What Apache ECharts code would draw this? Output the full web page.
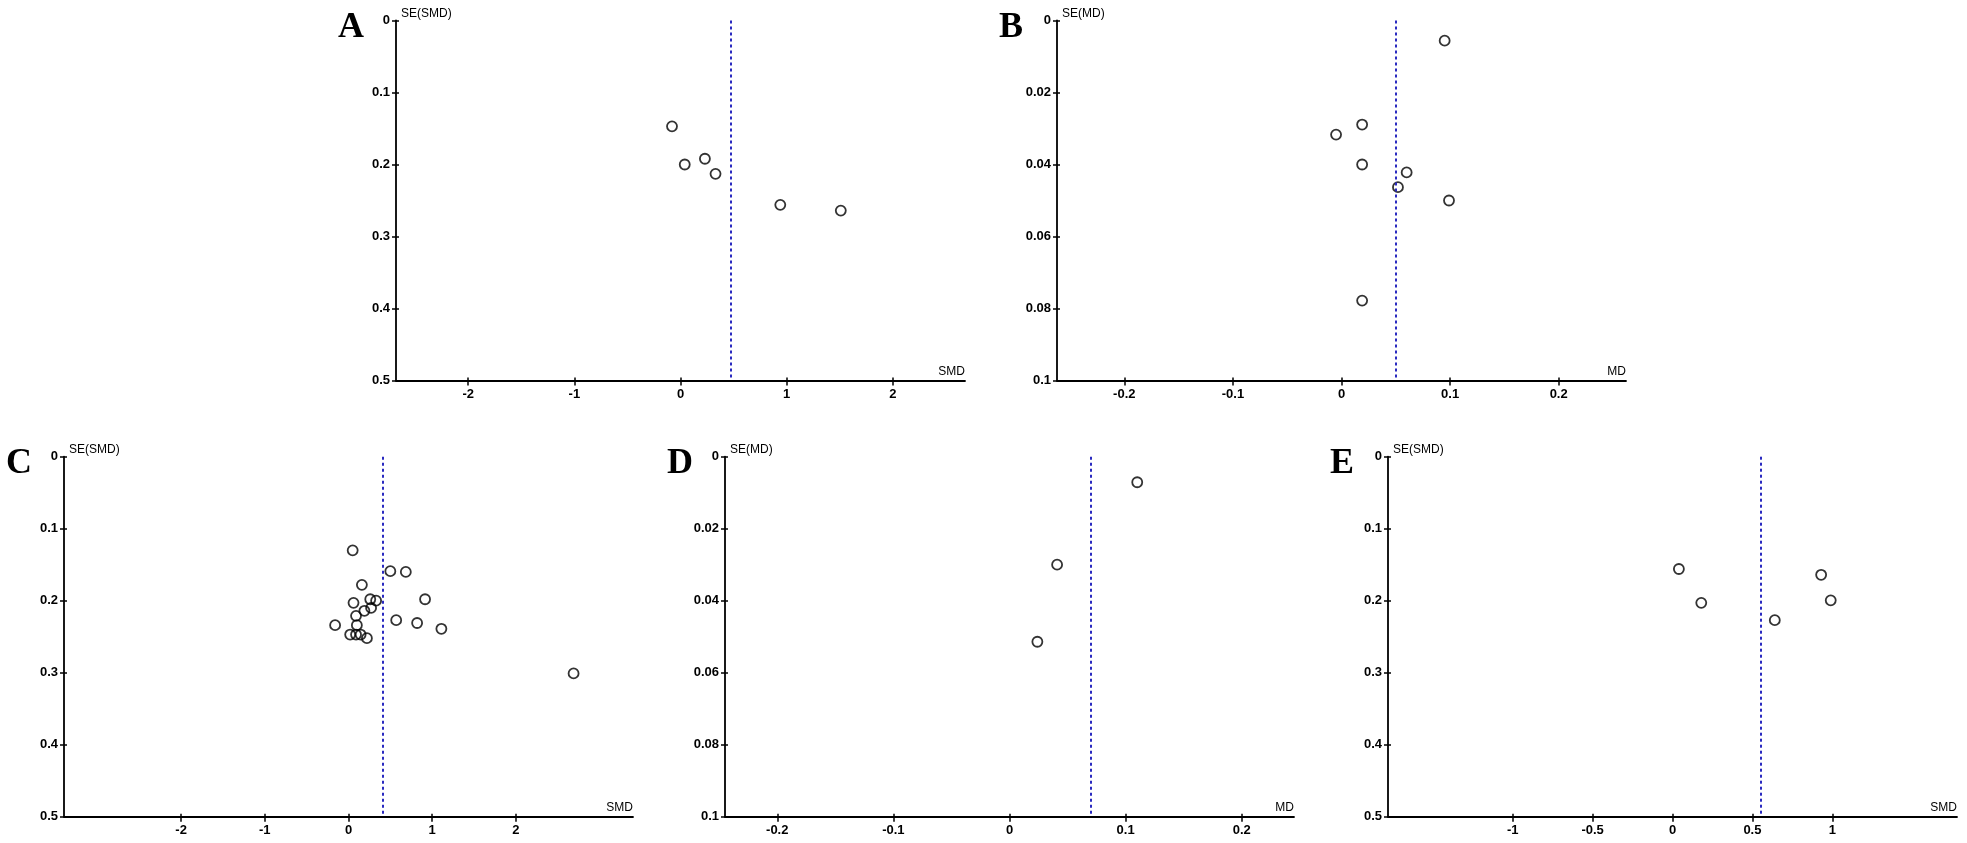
<!DOCTYPE html>
<html>
<head>
<meta charset="utf-8">
<script src="https://cdn.jsdelivr.net/npm/echarts@6/dist/echarts.min.js"></script>
<style>
  html, body { margin: 0; padding: 0; background: #fff; }
  #chart { width: 1967px; height: 843px; }
</style>
</head>
<body>
<div id="chart"></div>
<script>
// ---------------- DATA ----------------
// Panel A (SMD)
const A_effect = [-0.08, 0.04, 0.23, 0.33, 0.94, 1.51];
const A_se     = [0.147, 0.200, 0.192, 0.213, 0.256, 0.264];
const A_pooled = 0.47;
// Panel B (MD)
const B_effect = [0.095, 0.019, -0.005, 0.019, 0.060, 0.052, 0.099, 0.019];
const B_se     = [0.0056, 0.0289, 0.0317, 0.0400, 0.0422, 0.0463, 0.0500, 0.0778];
const B_pooled = 0.0485;
// Panel C (SMD)
const C_effect = [0.05, 0.50, 0.685, 0.16, 0.06, 0.26, 0.33, 0.915, 0.27, 0.19, 0.09, 0.57, 0.82, -0.16, 0.10, 1.11, 0.02, 0.09, 0.145, 0.22, 2.69];
const C_se     = [0.130, 0.159, 0.160, 0.178, 0.203, 0.198, 0.200, 0.198, 0.210, 0.214, 0.221, 0.227, 0.231, 0.234, 0.234, 0.239, 0.247, 0.247, 0.247, 0.252, 0.301];
const C_pooled = 0.415;
// Panel D (MD)
const D_effect = [0.110, 0.041, 0.024];
const D_se     = [0.0071, 0.0300, 0.0514];
const D_pooled = 0.0707;
// Panel E (SMD)
const E_effect = [0.04, 0.18, 0.64, 0.93, 0.99];
const E_se     = [0.156, 0.203, 0.227, 0.164, 0.1995];
const E_pooled = 0.552;

// axis ranges and tick labels
const A_xTicks = [-2, -1, 0, 1, 2];
const B_xTicks = [-0.2, -0.1, 0, 0.1, 0.2];
const C_xTicks = [-2, -1, 0, 1, 2];
const D_xTicks = [-0.2, -0.1, 0, 0.1, 0.2];
const E_xTicks = [-1, -0.5, 0, 0.5, 1];
const xRanges  = { A: 2.68, B: 0.262, C: 3.4, D: 0.245, E: 1.78 };
const yMaxes   = { A: 0.5, B: 0.1, C: 0.5, D: 0.1, E: 0.5 };
const xNames   = { A: 'SMD', B: 'MD', C: 'SMD', D: 'MD', E: 'SMD' };
const yNames   = { A: 'SE(SMD)', B: 'SE(MD)', C: 'SE(SMD)', D: 'SE(MD)', E: 'SE(SMD)' };

// ---------------- LAYOUT ----------------
const FONT = '"Liberation Sans", Arial, sans-serif';
const PW = 569, PH = 360;
const panels = [
  { id: 'A', left: 396,  top: 20.5,  x: A_effect, y: A_se, pooled: A_pooled, ticks: A_xTicks },
  { id: 'B', left: 1057, top: 20.5,  x: B_effect, y: B_se, pooled: B_pooled, ticks: B_xTicks },
  { id: 'C', left: 64,   top: 456.7, x: C_effect, y: C_se, pooled: C_pooled, ticks: C_xTicks },
  { id: 'D', left: 725,  top: 456.7, x: D_effect, y: D_se, pooled: D_pooled, ticks: D_xTicks },
  { id: 'E', left: 1388, top: 456.7, x: E_effect, y: E_se, pooled: E_pooled, ticks: E_xTicks }
];

const grid = [], xAxis = [], yAxis = [], series = [], graphic = [];
panels.forEach((p, i) => {
  grid.push({ left: p.left, top: p.top, width: PW, height: PH });
  const r = xRanges[p.id], ym = yMaxes[p.id];
  const tickStyle = { color: '#000', width: 1.5 };
  // main x axis (line, labels, outward ticks)
  xAxis.push({
    type: 'value', gridIndex: i, min: -r, max: r, position: 'bottom',
    axisLine: { show: true, onZero: false, lineStyle: { color: '#000', width: 1.8 } },
    axisTick: { show: true, customValues: p.ticks, length: 5, lineStyle: tickStyle },
    axisLabel: { customValues: p.ticks, color: '#000', fontSize: 13, fontWeight: 'bold', fontFamily: FONT, margin: 7 },
    splitLine: { show: false },
    name: xNames[p.id], nameLocation: 'end', nameGap: 0,
    nameTextStyle: { align: 'right', verticalAlign: 'bottom', color: '#000', fontSize: 12, fontFamily: FONT, padding: [0, 0, 3, 0] }
  });
  // secondary x axis (inward ticks only, so ticks cross the axis)
  xAxis.push({
    type: 'value', gridIndex: i, min: -r, max: r, position: 'bottom',
    axisLine: { show: false, onZero: false },
    axisTick: { show: true, inside: true, customValues: p.ticks, length: 3, lineStyle: tickStyle },
    axisLabel: { show: false }, splitLine: { show: false }
  });
  // main y axis
  yAxis.push({
    type: 'value', gridIndex: i, inverse: true, min: 0, max: ym, interval: ym / 5, position: 'left',
    axisLine: { show: true, onZero: false, lineStyle: { color: '#000', width: 1.8 } },
    axisTick: { show: true, length: 4, lineStyle: tickStyle },
    axisLabel: { color: '#000', fontSize: 13, fontWeight: 'bold', fontFamily: FONT, margin: 6 },
    splitLine: { show: false },
    name: yNames[p.id], nameLocation: 'start', nameGap: 1,
    nameTextStyle: { align: 'left', verticalAlign: 'bottom', color: '#000', fontSize: 12, fontFamily: FONT, padding: [0, 0, 0, 5] }
  });
  yAxis.push({
    type: 'value', gridIndex: i, inverse: true, min: 0, max: ym, interval: ym / 5, position: 'left',
    axisLine: { show: false, onZero: false },
    axisTick: { show: true, inside: true, length: 3, lineStyle: tickStyle },
    axisLabel: { show: false }, splitLine: { show: false }
  });
  series.push({
    type: 'scatter', xAxisIndex: 2 * i, yAxisIndex: 2 * i,
    data: p.x.map((v, k) => [v, p.y[k]]),
    symbol: 'circle', symbolSize: 10,
    itemStyle: { color: 'rgba(255,255,255,0)', borderColor: '#000', borderWidth: 1.8 },
    emphasis: { disabled: true },
    silent: true,
    markLine: {
      silent: true, symbol: 'none', animation: false,
      label: { show: false },
      lineStyle: { color: '#2a2ac0', type: [3, 3], width: 2 },
      data: [{ xAxis: p.pooled }]
    }
  });
  graphic.push({
    type: 'text', left: p.left - 32 - 26, top: p.top - 11,
    style: { text: p.id, font: 'bold 36px "Liberation Serif", "Times New Roman", serif', fill: '#000' }
  });
});

const chart = echarts.init(document.getElementById('chart'), null, { renderer: 'canvas' });
chart.setOption({
  animation: false,
  backgroundColor: '#fff',
  grid, xAxis, yAxis, series, graphic
});
</script>
</body>
</html>
